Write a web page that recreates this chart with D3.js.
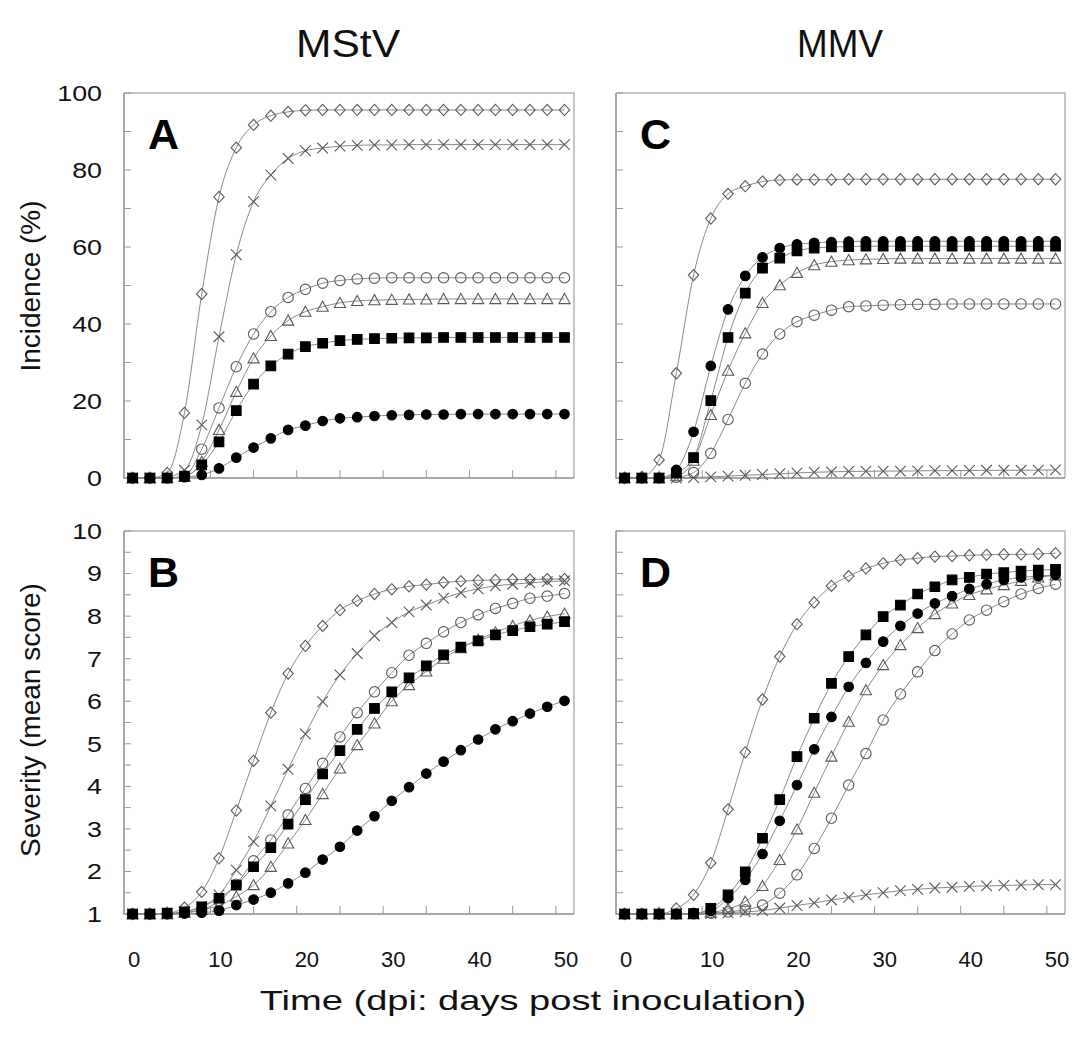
<!DOCTYPE html>
<html>
<head>
<meta charset="utf-8">
<script src="https://cdn.jsdelivr.net/npm/d3@7"></script>
<style>
  body { margin: 0; background: #fff; }
  svg { display: block; font-family: Arial, "Liberation Sans", sans-serif; }
</style>
</head>
<body>
<svg width="1075" height="1045"></svg>
<script>
const days = [0, 2, 4, 6, 8, 10, 12, 14, 16, 18, 20, 22, 24, 26, 28, 30, 32, 34, 36, 38, 40, 42, 44, 46, 48, 50];

// panel A - MStV incidence (%)
const incMStV_diamond = [0, 0, 1.3, 16.9, 47.8, 73, 85.8, 91.7, 94.1, 95.1, 95.5, 95.6, 95.6, 95.6, 95.6, 95.6, 95.6, 95.6, 95.6, 95.6, 95.6, 95.6, 95.6, 95.6, 95.6, 95.6];
const incMStV_cross = [0, 0, 0.3, 2, 13.8, 36.7, 58, 71.8, 78.7, 83, 85, 85.7, 86.2, 86.4, 86.5, 86.5, 86.6, 86.6, 86.6, 86.6, 86.6, 86.6, 86.6, 86.6, 86.6, 86.6];
const incMStV_circle = [0, 0, 0, 0.5, 7.5, 18.2, 28.9, 37.4, 43.2, 46.9, 49, 50.6, 51.3, 51.7, 51.9, 52, 52, 52, 52, 52, 52, 52, 52, 52, 52, 52];
const incMStV_triangle = [0, 0, 0, 0.3, 4.2, 12.5, 22.4, 31.1, 36.9, 40.9, 43.2, 44.5, 45.5, 46, 46.2, 46.3, 46.4, 46.4, 46.5, 46.5, 46.5, 46.5, 46.5, 46.5, 46.5, 46.5];
const incMStV_square = [0, 0, 0, 0.5, 3.4, 9.4, 17.5, 24.4, 29.1, 32.2, 34.1, 35, 35.7, 36, 36.2, 36.3, 36.4, 36.4, 36.5, 36.5, 36.5, 36.5, 36.5, 36.5, 36.5, 36.5];
const incMStV_dot = [0, 0, 0, 0.2, 0.8, 2.5, 5.3, 7.9, 10.3, 12.5, 13.6, 14.8, 15.5, 15.8, 16.1, 16.3, 16.4, 16.5, 16.5, 16.6, 16.6, 16.6, 16.6, 16.6, 16.6, 16.6];

// panel B - MStV severity (mean score)
const sevMStV_diamond = [1, 1, 1.02, 1.15, 1.52, 2.31, 3.43, 4.6, 5.73, 6.65, 7.3, 7.77, 8.14, 8.36, 8.52, 8.63, 8.7, 8.74, 8.79, 8.82, 8.84, 8.85, 8.86, 8.86, 8.87, 8.87];
const sevMStV_cross = [1, 1, 1, 1.05, 1.18, 1.45, 2.03, 2.7, 3.54, 4.4, 5.23, 5.99, 6.62, 7.12, 7.54, 7.85, 8.1, 8.26, 8.42, 8.55, 8.64, 8.71, 8.75, 8.78, 8.81, 8.83];
const sevMStV_circle = [1, 1, 1, 1.03, 1.1, 1.3, 1.7, 2.25, 2.74, 3.33, 3.95, 4.54, 5.16, 5.73, 6.22, 6.67, 7.08, 7.36, 7.63, 7.85, 8.03, 8.18, 8.3, 8.42, 8.47, 8.53];
const sevMStV_triangle = [1, 1, 1, 1.03, 1.1, 1.2, 1.41, 1.68, 2.11, 2.66, 3.21, 3.82, 4.42, 4.97, 5.48, 6, 6.38, 6.7, 7, 7.25, 7.45, 7.62, 7.77, 7.9, 7.99, 8.06];
const sevMStV_square = [1, 1, 1.02, 1.05, 1.17, 1.37, 1.68, 2.11, 2.56, 3.11, 3.69, 4.29, 4.84, 5.34, 5.83, 6.22, 6.55, 6.83, 7.09, 7.27, 7.42, 7.56, 7.66, 7.75, 7.81, 7.87];
const sevMStV_dot = [1, 1, 1, 1.01, 1.03, 1.08, 1.21, 1.34, 1.5, 1.72, 1.97, 2.28, 2.58, 2.96, 3.3, 3.66, 3.98, 4.3, 4.58, 4.85, 5.1, 5.34, 5.53, 5.71, 5.87, 6.01];

// panel C - MMV incidence (%)
const incMMV_diamond = [0, 0.3, 4.7, 27.2, 52.7, 67.4, 73.8, 75.8, 77, 77.4, 77.5, 77.5, 77.5, 77.6, 77.6, 77.6, 77.6, 77.6, 77.6, 77.6, 77.6, 77.6, 77.6, 77.6, 77.6, 77.6];
const incMMV_cross = [0, 0, 0, 0, 0.1, 0.3, 0.5, 0.7, 0.9, 1.1, 1.3, 1.5, 1.6, 1.7, 1.75, 1.8, 1.8, 1.85, 1.9, 1.9, 1.95, 2, 2, 2, 2.05, 2.1];
const incMMV_circle = [0, 0, 0, 0.2, 1.4, 6.4, 15.2, 24.6, 32.2, 37.4, 40.6, 42.3, 43.6, 44.5, 44.7, 44.9, 45, 45.1, 45.1, 45.2, 45.2, 45.2, 45.2, 45.2, 45.2, 45.2];
const incMMV_triangle = [0, 0, 0, 0.5, 4.5, 16.4, 27.9, 37.6, 45.5, 50.1, 53.3, 55.3, 56.2, 56.6, 56.8, 56.9, 57, 57, 57, 57, 57, 57, 57, 57, 57, 57];
const incMMV_square = [0, 0, 0, 1.3, 5.3, 20.1, 36.5, 48, 54.5, 57.1, 59, 59.7, 60, 60.1, 60.2, 60.2, 60.2, 60.2, 60.2, 60.2, 60.2, 60.2, 60.2, 60.2, 60.2, 60.2];
const incMMV_dot = [0, 0, 0, 2.1, 12, 29.1, 43.8, 52.5, 57.3, 59.7, 60.7, 61.1, 61.3, 61.4, 61.5, 61.5, 61.5, 61.5, 61.5, 61.5, 61.5, 61.5, 61.5, 61.5, 61.5, 61.5];

// panel D - MMV severity (mean score)
const sevMMV_diamond = [1, 1, 1, 1.13, 1.45, 2.2, 3.46, 4.8, 6.04, 7.05, 7.81, 8.32, 8.71, 8.94, 9.12, 9.24, 9.32, 9.36, 9.4, 9.41, 9.43, 9.44, 9.45, 9.45, 9.46, 9.48];
const sevMMV_cross = [1, 1, 1, 1, 1, 1.01, 1.03, 1.05, 1.08, 1.14, 1.2, 1.26, 1.33, 1.39, 1.45, 1.5, 1.55, 1.58, 1.61, 1.63, 1.65, 1.66, 1.67, 1.68, 1.69, 1.69];
const sevMMV_circle = [1, 1, 1, 1, 1, 1.02, 1.05, 1.1, 1.21, 1.49, 1.92, 2.54, 3.25, 4.03, 4.77, 5.56, 6.17, 6.69, 7.19, 7.58, 7.91, 8.14, 8.34, 8.52, 8.65, 8.75];
const sevMMV_triangle = [1, 1, 1, 1, 1, 1.03, 1.12, 1.29, 1.66, 2.27, 2.99, 3.85, 4.7, 5.52, 6.26, 6.85, 7.32, 7.72, 8.05, 8.3, 8.5, 8.63, 8.73, 8.83, 8.91, 8.96];
const sevMMV_square = [1, 1, 1, 1, 1.01, 1.13, 1.45, 1.99, 2.78, 3.69, 4.7, 5.6, 6.42, 7.05, 7.56, 7.99, 8.26, 8.52, 8.69, 8.85, 8.91, 8.99, 9.02, 9.06, 9.08, 9.1];
const sevMMV_dot = [1, 1, 1, 1, 1.02, 1.07, 1.37, 1.8, 2.41, 3.19, 4.03, 4.87, 5.63, 6.34, 6.9, 7.4, 7.77, 8.06, 8.3, 8.47, 8.64, 8.75, 8.85, 8.91, 8.94, 8.97];

const xTickLabels = [0, 10, 20, 30, 40, 50];
const xTickMarks = [4, 9, 14, 19, 24, 29, 34, 39, 44, 49];
const incTickLabels = [0, 20, 40, 60, 80, 100];
const sevTickLabels = [1, 2, 3, 4, 5, 6, 7, 8, 9, 10];
const columnTitles = ["MStV", "MMV"];

const width = 1075;
const height = 1045;
const svg = d3.select("svg");

const lineColor = "#8a8a8a";
const markColor = "#5a5a5a";

const panels = [
  { letter: "A", left: 124, right: 574, top: 93, bottom: 478, domain: [0, 100], minor: 10, labels: true, xLabels: false,
    series: { cross: incMStV_cross, diamond: incMStV_diamond, circle: incMStV_circle, triangle: incMStV_triangle, square: incMStV_square, dot: incMStV_dot } },
  { letter: "B", left: 124, right: 574, top: 531, bottom: 914, domain: [1, 10], minor: 0.5, labels: true, xLabels: true,
    series: { cross: sevMStV_cross, diamond: sevMStV_diamond, circle: sevMStV_circle, triangle: sevMStV_triangle, square: sevMStV_square, dot: sevMStV_dot } },
  { letter: "C", left: 616, right: 1065, top: 93, bottom: 478, domain: [0, 100], minor: 10, labels: false, xLabels: false,
    series: { cross: incMMV_cross, diamond: incMMV_diamond, circle: incMMV_circle, triangle: incMMV_triangle, square: incMMV_square, dot: incMMV_dot } },
  { letter: "D", left: 616, right: 1065, top: 531, bottom: 914, domain: [1, 10], minor: 0.5, labels: false, xLabels: true,
    series: { cross: sevMMV_cross, diamond: sevMMV_diamond, circle: sevMMV_circle, triangle: sevMMV_triangle, square: sevMMV_square, dot: sevMMV_dot } }
];

// marker shapes, centered on 0,0
const markers = {
  diamond: { d: "M0,-5.6L5.2,0L0,5.6L-5.2,0Z", fill: "none", stroke: markColor },
  cross: { d: "M-5.3,-5.3L5.3,5.3M-5.3,5.3L5.3,-5.3", fill: "none", stroke: markColor },
  circle: { d: "M5.2,0A5.2,5.2 0 1,1 -5.2,0A5.2,5.2 0 1,1 5.2,0Z", fill: "none", stroke: markColor },
  triangle: { d: "M0,-5.5L5.6,4.6L-5.6,4.6Z", fill: "none", stroke: markColor },
  square: { d: "M-4.8,-4.8H4.8V4.8H-4.8Z", fill: "#000", stroke: "#000" },
  dot: { d: "M4.8,0A4.8,4.8 0 1,1 -4.8,0A4.8,4.8 0 1,1 4.8,0Z", fill: "#000", stroke: "#000" }
};
const drawOrder = ["cross", "diamond", "circle", "triangle", "square", "dot"];

panels.forEach(p => {
  const x = d3.scaleLinear().domain([-1, 51.1]).range([p.left, p.right]);
  const y = d3.scaleLinear().domain(p.domain).range([p.bottom, p.top]);
  const g = svg.append("g");

  // frame
  g.append("path")
    .attr("d", `M${p.left},${p.top}H${p.right}V${p.bottom}`)
    .attr("fill", "none").attr("stroke", "#b4b4b4").attr("stroke-width", 1.5);
  g.append("path")
    .attr("d", `M${p.left},${p.top}V${p.bottom}H${p.right}`)
    .attr("fill", "none").attr("stroke", "#8c8c8c").attr("stroke-width", 1.5);

  // y ticks (inside)
  const yTicks = d3.range(p.domain[0] + p.minor, p.domain[1] + 1e-6, p.minor);
  g.selectAll(".yt").data(yTicks).join("line")
    .attr("x1", p.left).attr("x2", p.left + 7)
    .attr("y1", d => y(d)).attr("y2", d => y(d))
    .attr("stroke", "#9a9a9a").attr("stroke-width", 1);

  // x ticks (inside)
  g.selectAll(".xt").data(xTickMarks).join("line")
    .attr("x1", d => x(d)).attr("x2", d => x(d))
    .attr("y1", p.bottom).attr("y2", p.bottom - 8)
    .attr("stroke", "#9a9a9a").attr("stroke-width", 1);

  if (p.labels) {
    const labs = p.domain[1] === 100 ? incTickLabels : sevTickLabels;
    g.selectAll(".yl").data(labs).join("text")
      .attr("transform", d => `translate(102,${y(d)}) scale(1.22,1)`)
      .attr("dy", "0.36em")
      .attr("text-anchor", "end")
      .attr("font-size", 22)
      .attr("fill", "#111")
      .text(d => d);
  }
  if (p.xLabels) {
    g.selectAll(".xl").data(xTickLabels).join("text")
      .attr("x", d => x(d) + 1.5)
      .attr("y", 967)
      .attr("text-anchor", "middle")
      .attr("font-size", 22)
      .attr("fill", "#111")
      .text(d => d);
  }

  // panel letter
  g.append("text")
    .attr("x", p.left + 24)
    .attr("y", p.top + 56)
    .attr("font-size", 43)
    .attr("font-weight", "bold")
    .attr("fill", "#000")
    .text(p.letter);

  const line = d3.line()
    .x((d, i) => x(days[i]))
    .y(d => y(d))
    .curve(d3.curveMonotoneX);

  drawOrder.forEach(key => {
    g.append("path")
      .attr("d", line(p.series[key]))
      .attr("fill", "none")
      .attr("stroke", lineColor)
      .attr("stroke-width", 1);
  });
  drawOrder.forEach(key => {
    const m = markers[key];
    g.selectAll(".m-" + key).data(p.series[key]).join("path")
      .attr("transform", (d, i) => `translate(${x(days[i])},${y(d)})`)
      .attr("d", m.d)
      .attr("fill", m.fill)
      .attr("stroke", m.stroke)
      .attr("stroke-width", 1.1);
  });
});

// column titles
svg.append("text")
  .attr("transform", "translate(348,57) scale(1.12,1)")
  .attr("text-anchor", "middle")
  .attr("font-size", 38)
  .attr("fill", "#111")
  .text(columnTitles[0]);
svg.append("text")
  .attr("transform", "translate(840,57) scale(0.97,1)")
  .attr("text-anchor", "middle")
  .attr("font-size", 38)
  .attr("fill", "#111")
  .text(columnTitles[1]);

// axis titles
svg.append("text")
  .attr("transform", "translate(40,286) rotate(-90)")
  .attr("text-anchor", "middle")
  .attr("font-size", 28)
  .attr("fill", "#111")
  .text("Incidence (%)");
svg.append("text")
  .attr("transform", "translate(40,720) rotate(-90)")
  .attr("text-anchor", "middle")
  .attr("font-size", 28)
  .attr("fill", "#111")
  .text("Severity (mean score)");
svg.append("text")
  .attr("transform", "translate(533,1010) scale(1.36,1)")
  .attr("text-anchor", "middle")
  .attr("font-size", 28)
  .attr("fill", "#111")
  .text("Time (dpi: days post inoculation)");
</script>
</body>
</html>
